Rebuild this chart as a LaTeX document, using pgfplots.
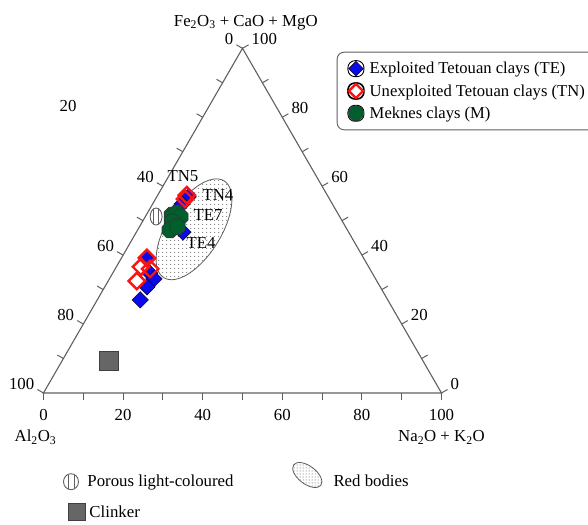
\documentclass[border=0pt]{standalone}
\usepackage{fontspec}
\setmainfont{Liberation Serif}
\usepackage{pgfplots}
\pgfplotsset{compat=1.18}
\usepackage{pgfplotstable}
\usetikzlibrary{calc,shapes.geometric,patterns.meta}

\definecolor{teblue}{RGB}{10,10,235}
\definecolor{tnred}{RGB}{250,20,20}
\definecolor{mgreen}{RGB}{0,95,45}
\definecolor{framegray}{RGB}{95,95,95}

\pgfdeclareplotmark{octagon*}{%
 \pgfpathmoveto{\pgfpointpolar{22.5}{\pgfplotmarksize}}%
 \pgfpathlineto{\pgfpointpolar{67.5}{\pgfplotmarksize}}%
 \pgfpathlineto{\pgfpointpolar{112.5}{\pgfplotmarksize}}%
 \pgfpathlineto{\pgfpointpolar{157.5}{\pgfplotmarksize}}%
 \pgfpathlineto{\pgfpointpolar{202.5}{\pgfplotmarksize}}%
 \pgfpathlineto{\pgfpointpolar{247.5}{\pgfplotmarksize}}%
 \pgfpathlineto{\pgfpointpolar{292.5}{\pgfplotmarksize}}%
 \pgfpathlineto{\pgfpointpolar{337.5}{\pgfplotmarksize}}%
 \pgfpathclose\pgfusepathqfillstroke}

\pgfdeclareplotmark{porous}{%
 \pgfpathellipse{\pgfpointorigin}{\pgfqpoint{0.7\pgfplotmarksize}{0pt}}{\pgfqpoint{0pt}{\pgfplotmarksize}}%
 \pgfusepathqfillstroke
 \pgfpathmoveto{\pgfqpoint{-0.28\pgfplotmarksize}{-0.9\pgfplotmarksize}}%
 \pgfpathlineto{\pgfqpoint{-0.28\pgfplotmarksize}{0.9\pgfplotmarksize}}%
 \pgfpathmoveto{\pgfqpoint{0.28\pgfplotmarksize}{-0.9\pgfplotmarksize}}%
 \pgfpathlineto{\pgfqpoint{0.28\pgfplotmarksize}{0.9\pgfplotmarksize}}%
 \pgfusepathqstroke}

% compositions in %: Fe = Fe2O3+CaO+MgO, Na = Na2O+K2O (Al2O3 = 100 - Fe - Na)
\pgfplotstableread{
Fe Na
56.9 7.9
54.8 7.4
46.7 11.7
38.9 6.6
34.8 9.3
33.1 11.2
30.8 10.6
27.0 10.8
}\tableTE
\pgfplotstableread{
Fe Na
57.4 7.3
56.3 7.4
39.2 6.4
36.6 6.2
36.0 8.8
32.5 7.2
}\tableTN
\pgfplotstableread{
Fe Na
51.6 6.5
52.2 7.4
51.1 8.8
49.6 7.5
47.3 8.1
48.2 9.5
}\tableM
\pgfplotstableread{
Fe Na
51.2 2.7
}\tablePorous
\pgfplotstableread{
Fe Na
9.3 11.8
}\tableClinker

\begin{document}
\begin{tikzpicture}[font=\fontsize{16.8bp}{19bp}\selectfont]
% frame, ticks and labels in pixel units (y downwards)
\begin{scope}[x=1bp,y=-1bp]
\coordinate (L) at (43.5,393);
\coordinate (R) at (441.5,393);
\coordinate (T) at (242.5,48.33);
\draw[framegray, line width=1.1bp] (L) -- (R) -- (T) -- cycle;
\foreach \i in {0,10,...,100}{
  \draw[framegray, line width=1bp] ($(L)!\i/100!(R)$) -- ++(0,7);
  \draw[framegray, line width=1bp] ($(R)!\i/100!(T)$) -- ++(6.06,-3.5);
  \draw[framegray, line width=1bp] ($(T)!\i/100!(L)$) -- ++(-6.06,-3.5);
}
\foreach \i in {0,20,...,100}{
  \node[inner sep=0pt] at ($(L)!\i/100!(R)+(0,22)$) {\i};
  \node[inner sep=0pt, anchor=west] at ($(R)!\i/100!(T)+(9,-9.5)$) {\i};
}
\foreach \i in {0,40,60,80,100}{
  \node[inner sep=0pt, anchor=east] at ($(T)!\i/100!(L)+(-9,-9.5)$) {\i};
}
\node[inner sep=0pt] at (68,106) {20};
\node[anchor=base] at (245.8,26) {Fe\textsubscript{2}O\textsubscript{3} + CaO + MgO};
\node[anchor=base] at (35.5,441.7) {Al\textsubscript{2}O\textsubscript{3}};
\node[anchor=base] at (441.5,441.7) {Na\textsubscript{2}O + K\textsubscript{2}O};
% red bodies field
\node[ellipse, draw=framegray, line width=0.8bp, minimum width=114bp, minimum height=54bp, inner sep=0pt, rotate=58, fill=white, postaction={pattern={Dots[distance=3.6bp, radius=0.55bp]}, pattern color=black!70}] at (194,229.3) {};
% bottom key
\draw[framegray, line width=0.9bp, fill=white] (71,481.7) ellipse [x radius=7.5, y radius=8];
\draw[framegray, line width=0.9bp] (68,474.5) -- (68,489) (74,474.5) -- (74,489);
\node[anchor=base west, inner sep=0pt] at (87.3,486.7) {Porous light-coloured};
\node[ellipse, draw=framegray, line width=0.8bp, minimum width=34bp, minimum height=18bp, inner sep=0pt, rotate=-37, fill=white, postaction={pattern={Dots[distance=3bp, radius=0.5bp]}, pattern color=black!70}] at (307.3,475) {};
\node[anchor=base west, inner sep=0pt] at (333.3,486.7) {Red bodies};
\draw[black!75, line width=0.9bp, fill=black!60] (68.3,503.3) rectangle (85,520);
\node[anchor=base west, inner sep=0pt] at (89.3,517.3) {Clinker};
\end{scope}

\begin{axis}[
 at={(43.5bp,-393bp)}, anchor=origin,
 x=3.98bp, y=3.98bp,
 xmin=-10.93, xmax=136.81, ymin=-33.17, ymax=98.74,
 hide axis, clip=false,
 legend cell align=left,
 legend style={at={(0.5726,0.9015)}, anchor=north west, draw=framegray, line width=0.9bp,
   rounded corners=7bp, font=\fontsize{16.6bp}{19bp}\selectfont,
   inner xsep=10bp, inner ysep=8bp, nodes={inner sep=2bp}, column sep=3bp, row sep=5bp},
 legend image code/.code={\path (-8bp,-8bp) rectangle (8bp,8bp); \draw[#1] plot coordinates {(0bp,0bp)};},
]
\addplot[only marks, mark=porous, mark size=8.5bp, mark options={draw=framegray, fill=white, line width=0.9bp}, forget plot]
  table[x expr=\thisrow{Na}+0.5*\thisrow{Fe}, y expr=0.8660254*\thisrow{Fe}] {\tablePorous};
\addplot[only marks, mark=square*, mark size=9.5bp, mark options={draw=black!75, fill=black!60, line width=0.9bp}, forget plot]
  table[x expr=\thisrow{Na}+0.5*\thisrow{Fe}, y expr=0.8660254*\thisrow{Fe}] {\tableClinker};
\addplot[only marks, mark=square*, mark size=5.8bp, mark options={rotate=45, draw=black, fill=teblue, line width=0.4bp}, legend image post style={mark size=5.2bp}]
  table[x expr=\thisrow{Na}+0.5*\thisrow{Fe}, y expr=0.8660254*\thisrow{Fe}] {\tableTE};
\addlegendentry{Exploited Tetouan clays (TE)}
\addplot[only marks, mark=square, mark size=5.8bp, mark options={rotate=45, draw=tnred, line width=2.4bp}, legend image post style={mark size=5bp, line width=1.6bp}]
  table[x expr=\thisrow{Na}+0.5*\thisrow{Fe}, y expr=0.8660254*\thisrow{Fe}] {\tableTN};
\addlegendentry{Unexploited Tetouan clays (TN)}
\addplot[only marks, mark=octagon*, mark size=8.5bp, mark options={draw=black!80, fill=mgreen, line width=0.6bp}, legend image post style={mark size=7.8bp}]
  table[x expr=\thisrow{Na}+0.5*\thisrow{Fe}, y expr=0.8660254*\thisrow{Fe}] {\tableM};
\addlegendentry{Meknes clays (M)}
\end{axis}

\begin{scope}[x=1bp,y=-1bp]
\node[inner sep=0pt] at (183,176.5) {TN5};
\node[inner sep=0pt] at (218,195) {TN4};
\node[inner sep=0pt] at (208,215) {TE7};
\node[inner sep=0pt] at (201,242.5) {TE4};
\end{scope}

\pgfresetboundingbox
\path[use as bounding box] (0bp,0bp) rectangle (588bp,-525bp);
\end{tikzpicture}
\end{document}
